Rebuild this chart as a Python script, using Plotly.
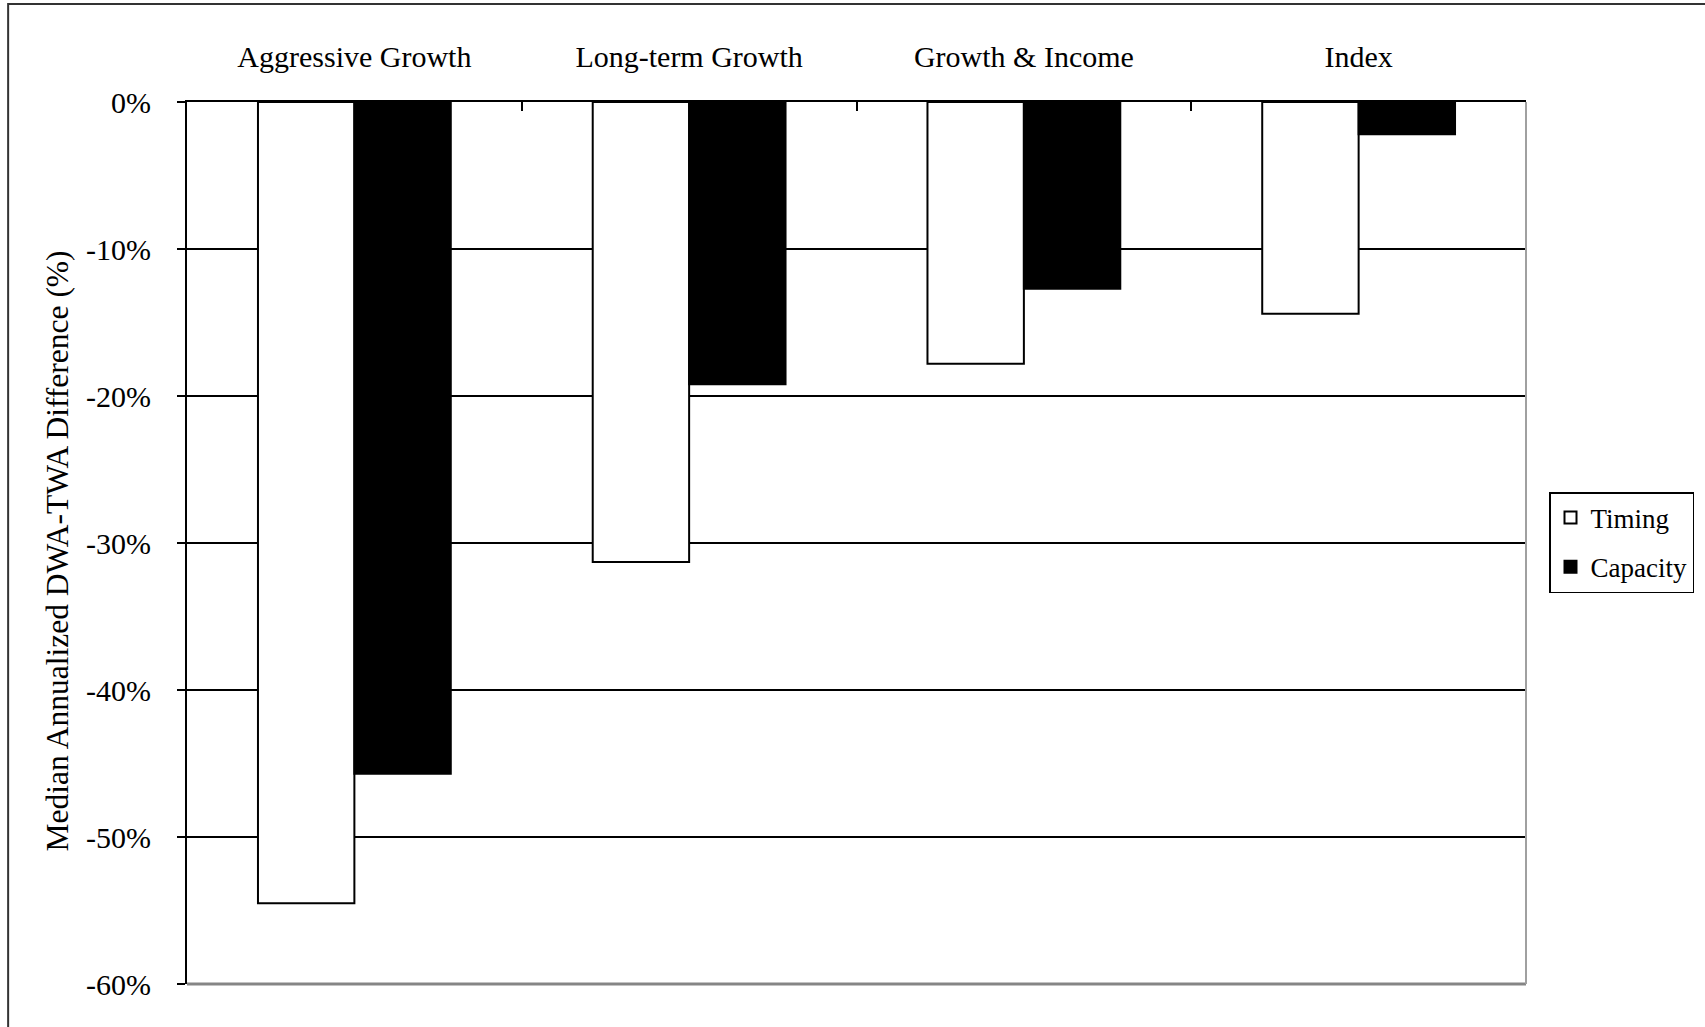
import plotly.graph_objects as go

categories = ["Aggressive Growth", "Long-term Growth", "Growth & Income", "Index"]
timing = [-54.5, -31.3, -17.8, -14.4]
capacity = [-45.7, -19.2, -12.7, -2.2]
y_tickvals = [0, -10, -20, -30, -40, -50, -60]
y_ticktext = ["0%", "-10%", "-20%", "-30%", "-40%", "-50%", "-60%"]
y_title = "Median Annualized DWA-TWA Difference (%)"

FONT = "Liberation Serif, Times New Roman, serif"

W, H = 1705, 1027
L, R, T, B = 187, 1527, 102, 984

fig = go.Figure()
fig.add_trace(go.Bar(
    x=categories, y=timing, name="Timing", legendgroup="t",
    marker=dict(color="white", line=dict(color="black", width=2)),
))
fig.add_trace(go.Bar(
    x=categories, y=capacity, name="Capacity", legendgroup="c",
    marker=dict(color="black", line=dict(color="black", width=2)),
))

def px_x(x):
    return (x - L) / (R - L)

def px_y(y):
    return (B - y) / (B - T)

fig.update_layout(
    width=W, height=H,
    margin=dict(l=L, r=W - R, t=T, b=H - B, pad=0),
    paper_bgcolor="white", plot_bgcolor="white",
    font=dict(family=FONT, size=29, color="black"),
    barmode="group", bargap=0.424, bargroupgap=0,
    showlegend=True,
    legend=dict(
        x=px_x(1549), xanchor="left", y=px_y(542.5), yanchor="middle",
        bordercolor="black", borderwidth=1.5, bgcolor="white",
        font=dict(family=FONT, size=27, color="black"),
        traceorder="grouped", tracegroupgap=11,
    ),
    xaxis=dict(
        side="top", type="category",
        showline=True, linecolor="black", linewidth=2,
        ticks="inside", ticklen=9, tickwidth=1.5, tickcolor="black",
        tickson="boundaries", showgrid=False,
        tickfont=dict(family=FONT, size=30, color="black"),
        ticklabelstandoff=21,
    ),
    yaxis=dict(
        range=[-60, 0], tickvals=y_tickvals, ticktext=y_ticktext,
        showline=True, linecolor="black", linewidth=2,
        ticks="outside", ticklen=8, tickwidth=1.5, tickcolor="black",
        showgrid=True, gridcolor="black", gridwidth=2, zeroline=False,
        tickfont=dict(family=FONT, size=30, color="black"),
        ticklabelstandoff=20,
    ),
    shapes=[
        dict(type="line", xref="paper", yref="paper", x0=0, x1=1, y0=0, y1=0,
             line=dict(color="#858585", width=3), layer="above"),
        dict(type="line", xref="paper", yref="paper", x0=1, x1=1, y0=0, y1=1,
             line=dict(color="#a0a0a0", width=2), layer="above"),
        dict(type="rect", xref="paper", yref="paper",
             x0=px_x(8), x1=px_x(1720), y0=px_y(4), y1=px_y(1045),
             line=dict(color="#333333", width=2), fillcolor="rgba(0,0,0,0)", layer="above"),
    ],
    annotations=[
        dict(text=y_title, textangle=-90, xref="paper", yref="paper",
             x=px_x(57), y=px_y(551.5), xanchor="center", yanchor="middle",
             showarrow=False, font=dict(family=FONT, size=31.5, color="black")),
    ],
)

fig.write_html("out.html")
